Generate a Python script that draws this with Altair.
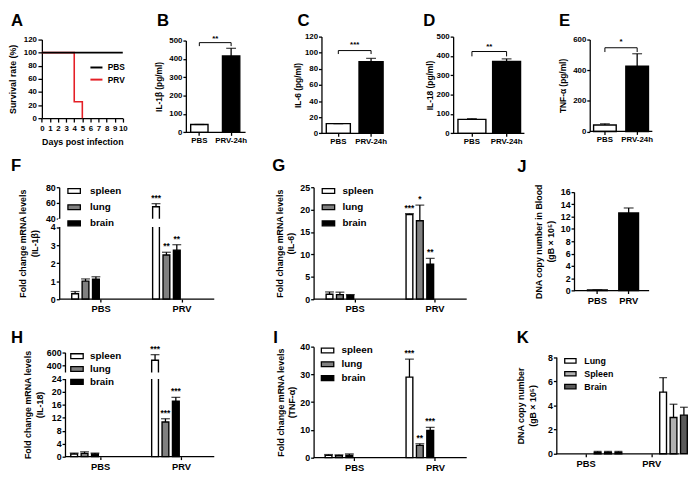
import altair as alt
import pandas as pd

# ---------------- data ----------------
SURV_GROUPS = ["PBS", "PRV"]
PBS_DAYS = [0, 10]
PBS_SURVIVAL = [100, 100]
PRV_DAYS = [0, 4, 5]
PRV_SURVIVAL = [100, 25, 0]
DAY_TICKS = [0, 1, 2, 3, 4, 5, 6, 7, 8, 9, 10]
SURV_TICKS = [0, 20, 40, 60, 80, 100, 120]

SERUM_CATS = ["PBS", "PRV-24h"]
IL1B_SERUM = [43, 415]
IL1B_SERUM_ERR = [43, 457]
IL6_SERUM = [12, 89]
IL6_SERUM_ERR = [12, 93]
IL18_SERUM = [72, 372]
IL18_SERUM_ERR = [76, 385]
TNF_SERUM = [42, 425]
TNF_SERUM_ERR = [50, 507]
SERUM_STARS = ["**", "***", "**", "*"]
# bracket: [end of side ticks, bracket line, star position]
SERUM_BRACKETS = [[469, 488, 509], [98.4, 102.7, 109], [398, 423, 447], [518, 546, 583]]

GROUPS = ["PBS", "PRV"]
TISSUES = ["spleen", "lung", "brain"]
IL1B_PBS = [0.3, 1.0, 1.1]
IL1B_PBS_ERR = [0.42, 1.12, 1.24]
IL1B_PRV = [55, 2.45, 2.72]
IL1B_PRV_ERR = [59, 2.6, 3.02]
IL1B_STARS = ["***", "**", "**"]
IL6_PBS = [1.1, 1.0, 0.85]
IL6_PBS_ERR = [1.6, 1.55, 1.0]
IL6_PRV = [18.9, 17.5, 7.8]
IL6_PRV_ERR = [19.1, 21.0, 9.1]
IL6_STARS = ["***", "*", "**"]
IL18_PBS = [0.8, 1.0, 0.8]
IL18_PBS_ERR = [1.1, 1.5, 1.1]
IL18_PRV = [480, 10.7, 17.1]
IL18_PRV_ERR = [565, 11.7, 18.3]
IL18_STARS = ["***", "***", "***"]
TNF_PBS = [0.8, 0.7, 0.8]
TNF_PBS_ERR = [1.1, 1.0, 1.3]
TNF_PRV = [29, 4.4, 9.8]
TNF_PRV_ERR = [35.5, 5.0, 10.9]
TNF_STARS = ["***", "**", "***"]

BLOOD_CATS = ["PBS", "PRV"]
BLOOD_DNA = [0.12, 12.6]
BLOOD_DNA_ERR = [0.12, 13.4]

ORGANS = ["Lung", "Spleen", "Brain"]
ORGAN_PBS = [0.12, 0.12, 0.12]
ORGAN_PBS_ERR = [0.2, 0.2, 0.2]
ORGAN_PRV = [5.1, 3.0, 3.2]
ORGAN_PRV_ERR = [6.3, 4.1, 3.85]
NO_STARS = ["", "", ""]

# ---------------- layout helpers ----------------
KX, KY = 0.98, 0.965
FONT = "Liberation Sans"
BOX = "M-1.15,-0.45H1.15V0.45H-1.15Z"
# grid column left edges (reference pixels) and widths
COL_LEFT = [58, 183, 315, 323, 459, 566, 584, 600]
COL_W = [COL_LEFT[i + 1] - COL_LEFT[i] for i in range(7)] + [10]


def sx(v):
    return round(v * KX, 2)


def sy(v):
    return round(v * KY, 2)


def colw(left):
    return sx(COL_W[COL_LEFT.index(left)])


def letter(ch, x, y):
    return alt.Chart(alt.Data(values=[{"t": ch}])).mark_text(
        align="left", baseline="top", fontSize=17, fontWeight="bold",
        font=FONT, color="black"
    ).encode(x=alt.value(x), y=alt.value(y - 1.5), text="t:N")


def xline(x1, x2, y):
    return alt.Chart(alt.Data(values=[{"t": 0}])).mark_rule(
        color="black", strokeWidth=1.3
    ).encode(x=alt.value(x1), x2=alt.value(x2), y=alt.value(y))


def spacer(col, h=1):
    return alt.Chart(alt.Data(values=[{"t": 0}])).mark_point(opacity=0, size=1).encode(
        x=alt.value(0), y=alt.value(0)).properties(width=sx(COL_W[col]), height=h)


def survival_panel():
    left, top = 58, 26
    h = sy(112 - top)
    pbs = pd.DataFrame({"group": "PBS", "day": PBS_DAYS, "surv": PBS_SURVIVAL})
    prv = pd.DataFrame({"group": "PRV", "day": PRV_DAYS, "surv": PRV_SURVIVAL})
    xsc = alt.Scale(domain=[0, 10], range=[sx(34 - left), sx(118 - left)], nice=False, zero=False)
    ysc = alt.Scale(domain=[0, 120], range=[h, sy(29 - top)], nice=False, zero=False)
    leg = alt.Legend(orient="none", legendX=sx(83 - left), legendY=sy(57 - top) - 6,
                     title=None, symbolType="stroke", symbolSize=150, symbolStrokeWidth=2,
                     labelFontSize=8.5, rowPadding=sy(13) - 12.2, labelOffset=4, padding=0)
    col = alt.Color("group:N", scale=alt.Scale(domain=SURV_GROUPS, range=["black", "#e41f26"]), legend=leg)
    X = alt.X("day:Q", scale=xsc, axis=alt.Axis(values=DAY_TICKS, title="Days post infection",
              tickSize=4, labelPadding=3, labelFontSize=8, titleFontSize=9, titlePadding=5, labelFlush=False))
    Y = alt.Y("surv:Q", scale=ysc, axis=alt.Axis(values=SURV_TICKS, title="Survival rate (%)", offset=sx(24),
              tickSize=4, labelPadding=1.5, labelFontSize=8, titleFontSize=9, titlePadding=6))
    l_prv = alt.Chart(prv).mark_line(interpolate="step-after", strokeWidth=1.6).encode(x=X, y=Y, color=col)
    l_pbs = alt.Chart(pbs).mark_line(interpolate="step-after", strokeWidth=1.6).encode(x=X, y=Y, color=col)
    return alt.layer(l_prv, l_pbs, letter("A", sx(2 - left), sy(3 - top))).properties(
        width=colw(left), height=h)


def simple_panel(cats, vals, errs, *, ch, ch_x, ch_top, left, top, zero_y, max_y, max_val,
                 ticks, title, bar_left, bw, step, axis_end, bracket=None, star=None,
                 label_fs=8, title_fs=8.5, xlabel_fs=8, title_pad=4, cap=10, xlabel_pad=1):
    h = sy(zero_y - top)
    df = pd.DataFrame({"cat": cats, "val": vals, "err": errs})
    xsc = alt.Scale(domain=cats, range=[sx(bar_left - left), sx(bar_left + step + bw - left)],
                    paddingInner=1 - bw / step, paddingOuter=0)
    ysc = alt.Scale(domain=[0, max_val], range=[h, sy(max_y - top)], nice=False, zero=False)
    xax = alt.Axis(title=None, domain=False, labelAngle=0, tickSize=3, labelPadding=xlabel_pad,
                   labelFontSize=xlabel_fs)
    yax = alt.Axis(values=ticks, title=title, titleFontSize=title_fs, labelFontSize=label_fs,
                   titlePadding=title_pad, tickSize=3, labelPadding=1, titleLineHeight=12,
                   labelOverlap=False, labelFlush=False)
    X = alt.X("cat:N", scale=xsc, sort=cats, axis=xax)
    Y = alt.Y("val:Q", scale=ysc, axis=yax)
    YE = alt.Y("err:Q", scale=ysc, axis=yax)
    base = alt.Chart(df)
    bars = base.mark_bar(stroke="black", strokeWidth=1.4).encode(
        x=X, y=Y, fill=alt.Fill("cat:N", scale=alt.Scale(domain=cats, range=["white", "black"]), legend=None))
    err = base.mark_rule(color="black", strokeWidth=1.3).encode(x=X, y=Y, y2="err:Q")
    capm = base.mark_tick(color="black", thickness=1.3, size=cap).encode(x=X, y=YE)
    layers = [bars, err, capm]
    if bracket is not None:
        bdf = pd.DataFrame({"cat": [cats[0], cats[0], cats[1], cats[1]],
                            "val": [bracket[0], bracket[1], bracket[1], bracket[0]],
                            "o": [0, 1, 2, 3]})
        layers.append(alt.Chart(bdf).mark_line(color="black", strokeWidth=1).encode(
            x=X, y=Y, order="o:Q"))
        sdf = pd.DataFrame({"cat": [cats[0]], "val": [bracket[2]], "s": [star]})
        layers.append(alt.Chart(sdf).mark_text(dx=sx(step) / 2, fontSize=8, fontWeight="bold", font=FONT,
                                               baseline="middle", color="black").encode(
            x=X, y=Y, text="s:N"))
    layers += [xline(0, sx(axis_end - left), h), letter(ch, sx(ch_x - left), sy(ch_top - top))]
    return alt.layer(*layers).properties(width=colw(left), height=h)


def grouped_panel(tissues, colors, pbs, pbs_err, prv, prv_err, stars, *, ch, ch_x, ch_top, left, top,
                  zero_y, ydomain, yrange_ref, ticks, title, axis_x, axis_end, g_left, gbw, gstep, bar_gap,
                  leg_x, leg_y, leg_rowpad, leg_off, leg_fs=10, sym_size=121, title_pad=6,
                  brk=None, cap=9):
    h = sy(zero_y - top)
    df = pd.DataFrame({
        "group": [GROUPS[0]] * 3 + [GROUPS[1]] * 3,
        "tissue": tissues + tissues,
        "val": pbs + prv,
        "err": pbs_err + prv_err,
        "star": NO_STARS + stars,
    })
    bar_w = (gbw - 2 * bar_gap) / 3
    xsc = alt.Scale(domain=GROUPS, range=[sx(g_left - left), sx(g_left + gstep + gbw - left)],
                    paddingInner=1 - gbw / gstep, paddingOuter=0)
    osc = alt.Scale(domain=tissues, paddingInner=bar_gap / (bar_w + bar_gap), paddingOuter=0)
    ysc = alt.Scale(domain=ydomain, range=[sy(r - top) for r in yrange_ref], nice=False, zero=False)
    xax = alt.Axis(title=None, domain=False, labelAngle=0, tickSize=3, labelPadding=2, labelFontSize=9.5)
    yax = alt.Axis(values=ticks, title=title, titleFontSize=9, labelFontSize=9,
                   titlePadding=title_pad, tickSize=3, labelPadding=1, offset=sx(left - axis_x),
                   labelOverlap=False, labelFlush=False, titleLineHeight=12, zindex=0)
    X = alt.X("group:N", scale=xsc, sort=GROUPS, axis=xax)
    XO = alt.XOffset("tissue:N", scale=osc, sort=tissues)
    Y = alt.Y("val:Q", scale=ysc, axis=yax)
    YE = alt.Y("err:Q", scale=ysc, axis=yax)
    leg = alt.Legend(orient="none", legendX=leg_x, legendY=leg_y, title=None, symbolType=BOX,
                     symbolSize=sym_size, symbolStrokeColor="black", symbolStrokeWidth=1.3,
                     labelFontSize=leg_fs, rowPadding=leg_rowpad, labelOffset=leg_off, padding=0,
                     symbolOpacity=1)
    base = alt.Chart(df)
    bars = base.mark_bar(stroke="black", strokeWidth=1.4).encode(
        x=X, xOffset=XO, y=Y,
        fill=alt.Fill("tissue:N", scale=alt.Scale(domain=tissues, range=colors), legend=leg, sort=tissues))
    err = base.mark_rule(color="black", strokeWidth=1.3).encode(x=X, xOffset=XO, y=Y, y2="err:Q")
    capm = base.mark_tick(color="black", thickness=1.3, size=cap).encode(x=X, xOffset=XO, y=YE)
    txt = base.mark_text(baseline="bottom", dy=-1, fontSize=8.5, fontWeight="bold", font=FONT,
                         color="black").encode(x=X, xOffset=XO, y=YE, text="star:N")
    layers = [bars, err, capm, txt]
    if brk is not None:
        bk = pd.DataFrame({"val": [brk[0]], "err": [brk[1]]})
        layers.append(alt.Chart(bk).mark_rect(fill="white").encode(
            x=alt.value(sx(axis_x - left) - 1.5), x2=alt.value(sx(axis_end - left) + 2),
            y=Y, y2="err:Q"))
    layers += [xline(sx(axis_x - left), sx(axis_end - left), h),
               letter(ch, sx(ch_x - left), sy(ch_top - top))]
    return alt.layer(*layers).properties(width=colw(left), height=h)


# ---------------- panels ----------------
A = survival_panel()
B = simple_panel(SERUM_CATS, IL1B_SERUM, IL1B_SERUM_ERR, ch="B", ch_x=153, ch_top=3, left=183,
                 top=26, zero_y=127, max_y=30, max_val=500, ticks=[0, 100, 200, 300, 400, 500],
                 title="IL-1β (pg/ml)", bar_left=188, bw=18, step=33, axis_end=245,
                 bracket=SERUM_BRACKETS[0], star=SERUM_STARS[0], title_pad=5)
C = simple_panel(SERUM_CATS, IL6_SERUM, IL6_SERUM_ERR, ch="C", ch_x=298, ch_top=3, left=323,
                 top=26, zero_y=128, max_y=26, max_val=120, ticks=[0, 20, 40, 60, 80, 100, 120],
                 title="IL-6 (pg/ml)", bar_left=328, bw=25, step=34, axis_end=387,
                 bracket=SERUM_BRACKETS[1], star=SERUM_STARS[1], title_pad=2)
D = simple_panel(SERUM_CATS, IL18_SERUM, IL18_SERUM_ERR, ch="D", ch_x=428, ch_top=3, left=459,
                 top=26, zero_y=128, max_y=26, max_val=500, ticks=[0, 100, 200, 300, 400, 500],
                 title="IL-18 (pg/ml)", bar_left=464, bw=29, step=36, axis_end=533,
                 bracket=SERUM_BRACKETS[2], star=SERUM_STARS[2], title_pad=2)
E = simple_panel(SERUM_CATS, TNF_SERUM, TNF_SERUM_ERR, ch="E", ch_x=568, ch_top=3, left=600,
                 top=26, zero_y=126, max_y=29, max_val=600, ticks=[0, 200, 400, 600],
                 title="TNF-α (pg/ml)", bar_left=604, bw=23.5, step=33.5, axis_end=665,
                 bracket=SERUM_BRACKETS[3], star=SERUM_STARS[3], title_pad=5)

WGB = ["white", "#808080", "black"]
F = grouped_panel(TISSUES, WGB, IL1B_PBS, IL1B_PBS_ERR, IL1B_PRV, IL1B_PRV_ERR, IL1B_STARS,
                  ch="F", ch_x=2, ch_top=155, left=58, top=184, zero_y=302,
                  ydomain=[0, 4, 40, 80], yrange_ref=[302, 226, 217, 184], ticks=[0, 1, 2, 3, 4, 40, 60, 80],
                  title=["Fold change mRNA levels", "(IL-1β)"], axis_x=52, axis_end=213,
                  g_left=65, gbw=61, gstep=84, bar_gap=8,
                  leg_x=2.8, leg_y=-2.6, leg_rowpad=sy(16) - 11, leg_off=9.7, title_pad=6,
                  brk=[4.08, 38.5])
G = grouped_panel(TISSUES, WGB, IL6_PBS, IL6_PBS_ERR, IL6_PRV, IL6_PRV_ERR, IL6_STARS,
                  ch="G", ch_x=272, ch_top=155, left=315, top=184, zero_y=302,
                  ydomain=[0, 25], yrange_ref=[302, 184], ticks=[0, 5, 10, 15, 20, 25],
                  title=["Fold change mRNA levels", "(IL-6)"], axis_x=315, axis_end=474,
                  g_left=328, gbw=60, gstep=83, bar_gap=8,
                  leg_x=8.6, leg_y=-2.6, leg_rowpad=sy(16) - 11, leg_off=7.8, title_pad=4)
J = simple_panel(BLOOD_CATS, BLOOD_DNA, BLOOD_DNA_ERR, ch="J", ch_x=525, ch_top=156, left=584,
                 top=184, zero_y=293, max_y=189, max_val=16, ticks=[0, 2, 4, 6, 8, 10, 12, 14, 16],
                 title=["DNA copy number in Blood", "(gB × 10⁵)"], bar_left=598, bw=20.5, step=32.5,
                 axis_end=662, label_fs=9, title_fs=9, xlabel_fs=9.5, title_pad=5, xlabel_pad=2)
H = grouped_panel(TISSUES, WGB, IL18_PBS, IL18_PBS_ERR, IL18_PRV, IL18_PRV_ERR, IL18_STARS,
                  ch="H", ch_x=2, ch_top=336, left=58, top=352, zero_y=468,
                  ydomain=[0, 24, 300, 600], yrange_ref=[468, 386, 379, 358],
                  ticks=[0, 4, 8, 12, 16, 20, 24, 400, 600],
                  title=["Fold change mRNA levels", "(IL-18)"], axis_x=58, axis_end=213,
                  g_left=64, gbw=62, gstep=84, bar_gap=9,
                  leg_x=5.7, leg_y=3.2, leg_rowpad=sy(12.5) - 11, leg_off=6.8, title_pad=2,
                  brk=[24.3, 285])
I = grouped_panel(TISSUES, WGB, TNF_PBS, TNF_PBS_ERR, TNF_PRV, TNF_PRV_ERR, TNF_STARS,
                  ch="I", ch_x=273, ch_top=336, left=315, top=352, zero_y=469,
                  ydomain=[0, 40], yrange_ref=[469, 352], ticks=[0, 10, 20, 30, 40],
                  title=["Fold change mRNA levels", "(TNF-α)"], axis_x=315, axis_end=474,
                  g_left=327, gbw=61, gstep=84, bar_gap=8,
                  leg_x=7.7, leg_y=-2.6, leg_rowpad=sy(13.5) - 11, leg_off=7.8, title_pad=3)
K = grouped_panel(ORGANS, ["white", "#b0b0b0", "#5a5a5a"], ORGAN_PBS, ORGAN_PBS_ERR, ORGAN_PRV, ORGAN_PRV_ERR,
                  NO_STARS, ch="K", ch_x=525, ch_top=336, left=566, top=352, zero_y=465,
                  ydomain=[0, 8], yrange_ref=[465, 363], ticks=[0, 2, 4, 6, 8],
                  title=["DNA copy number", "(gB × 10⁵)"], axis_x=566, axis_end=694,
                  g_left=573, gbw=48, gstep=68, bar_gap=7.5,
                  leg_x=8.3, leg_y=8.5, leg_rowpad=sy(12.5) - 10, leg_off=8.2, leg_fs=9, sym_size=100,
                  title_pad=10, cap=8)

ROW_GAP = sy(352 - 302)
cells = [A, B, spacer(2), C, D, spacer(5), spacer(6, sy(184 - 26) - ROW_GAP), E,
         F, spacer(1), G, spacer(3), spacer(4), spacer(5), J, spacer(7),
         H, spacer(1), I, spacer(3), spacer(4), K, spacer(6), spacer(7)]
chart = alt.concat(
    *cells, columns=8, spacing={"row": ROW_GAP, "column": 0}, bounds="flush", align="each"
).resolve_scale(
    fill="independent", color="independent"
).resolve_legend(
    fill="independent", color="independent"
).properties(
    padding=0
).configure_view(stroke=None).configure_axis(
    labelFont=FONT, titleFont=FONT, labelFontWeight="bold", titleFontWeight="bold",
    labelColor="black", titleColor="black", domainColor="black", tickColor="black",
    domainWidth=1.3, tickWidth=1.3, grid=False
).configure_legend(
    labelFont=FONT, labelFontWeight="bold", labelColor="black"
)

chart.save("out.html", embed_options={"renderer": "svg", "actions": False})
